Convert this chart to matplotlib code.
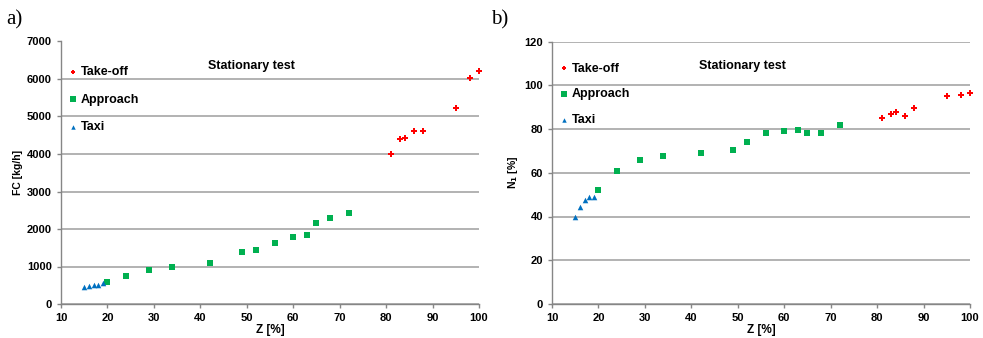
import matplotlib
matplotlib.use('Agg')
import matplotlib.pyplot as plt

plt.rcParams['font.family'] = ['Liberation Sans', 'DejaVu Sans']

# Data
taxi_z = [15, 16, 17, 18, 19]
taxi_fc = [460, 480, 500, 520, 550]
taxi_n1 = [40, 44.5, 47.5, 48.8, 49]

appr_z = [20, 24, 29, 34, 42, 49, 52, 56, 60, 63, 65, 68, 72]
appr_fc = [600, 760, 900, 1000, 1100, 1400, 1450, 1640, 1800, 1850, 2150, 2300, 2440]
appr_n1 = [52, 61, 66, 67.5, 69, 70.5, 74, 78, 79, 79.5, 78, 78, 82]

to_z = [81, 83, 84, 86, 88, 95, 98, 100]
to_fc = [4000, 4400, 4430, 4610, 4620, 5230, 6020, 6220]
to_n1 = [85, 87, 88, 86, 89.5, 95, 95.5, 96.5]

x_ticks = list(range(10, 101, 10))
fc_ticks = list(range(0, 7001, 1000))
n1_ticks = list(range(0, 121, 20))

W, H = 983, 338
fig = plt.figure(figsize=(W / 100, H / 100), dpi=100)


def panel(left_px, yvals_to, yvals_ap, yvals_tx, yticks, ylabel, letter, letter_x, leg_y, leg_sp):
    ax = fig.add_axes([left_px / W, 34 / H, 418 / W, 262.5 / H])
    ax.scatter(to_z, yvals_to, marker='P', s=18, color='#FF0000', lw=0, label='Take-off',
               zorder=3, clip_on=False)
    ax.scatter(appr_z, yvals_ap, marker='s', s=24, color='#00B050', lw=0, label='Approach', zorder=3)
    ax.scatter(taxi_z, yvals_tx, marker='^', s=16, color='#0070C0', lw=0, label='Taxi', zorder=3)
    ax.set_xlim(10, 100)
    ax.set_ylim(yticks[0], yticks[-1])
    ax.set_xticks(x_ticks)
    ax.set_yticks(yticks)
    ax.grid(axis='y', color='#A6A6A6', lw=1.2)
    ax.set_axisbelow(True)
    for s in ['top', 'right']:
        ax.spines[s].set_visible(False)
    for s in ['left', 'bottom']:
        ax.spines[s].set_color('#868686')
        ax.spines[s].set_linewidth(1.0)
    ax.tick_params(colors='#868686', labelcolor='black', length=3, width=1, labelsize=8)
    for lab in ax.get_xticklabels() + ax.get_yticklabels():
        lab.set_fontweight('bold')
    ax.set_xlabel('Z [%]', fontsize=8.5, fontweight='bold', labelpad=1)
    ax.set_ylabel(ylabel, fontsize=7.5, fontweight='bold', labelpad=3)
    ax.text(0.455, 0.905, 'Stationary test', transform=ax.transAxes, ha='center', va='center',
            fontsize=9, fontweight='bold')
    leg = ax.legend(loc='upper left', bbox_to_anchor=(0.0, leg_y), frameon=False, fontsize=9,
                    handlelength=0.7, handletextpad=0.3, labelspacing=leg_sp, markerscale=0.8,
                    borderaxespad=0.2)
    for t in leg.get_texts():
        t.set_fontweight('bold')
    fig.text(letter_x / W, 1 - 20 / H, letter, family='Liberation Serif', fontsize=15,
             ha='left', va='center')
    return ax


panel(61, to_fc, appr_fc, taxi_fc, fc_ticks, 'FC [kg/h]', 'a)', 6, 0.935, 1.25)
panel(552, to_n1, appr_n1, taxi_n1, n1_ticks, r'N$_\mathbf{1}$ [%]', 'b)', 491, 0.948, 1.09)

fig.savefig('out.png', dpi=100)
